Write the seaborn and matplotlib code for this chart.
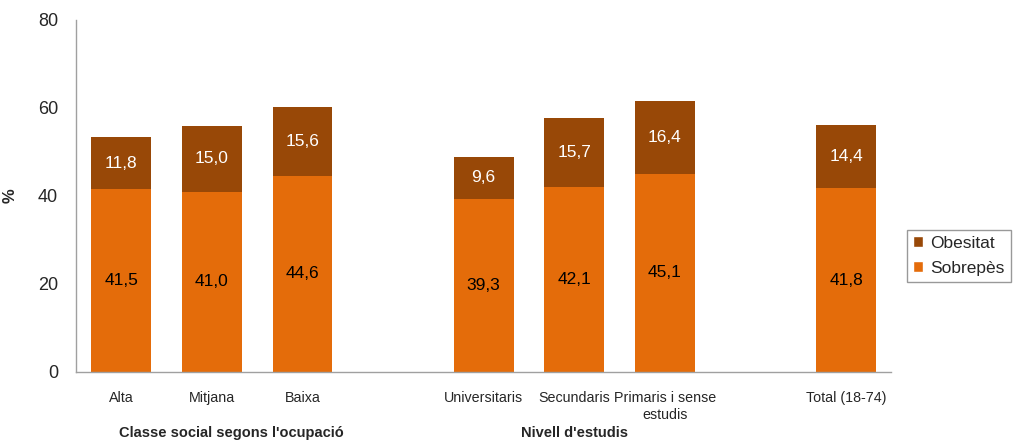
import numpy as np
import pandas as pd
import matplotlib
matplotlib.use("Agg")
import matplotlib.pyplot as plt
import seaborn as sns
from matplotlib.patches import Patch

categories = ["Alta", "Mitjana", "Baixa", " ", "Universitaris", "Secundaris",
              "Primaris i sense\nestudis", "  ", "Total (18-74)"]
sobrepes = [41.5, 41.0, 44.6, np.nan, 39.3, 42.1, 45.1, np.nan, 41.8]
obesitat = [11.8, 15.0, 15.6, np.nan, 9.6, 15.7, 16.4, np.nan, 14.4]
group_labels = ["Classe social segons l'ocupació", "Nivell d'estudis"]
y_ticks = [0, 20, 40, 60, 80]

c_sob = "#E46C0A"
c_obe = "#984807"

sns.set_style("white")
plt.rcParams['font.family'] = ['Liberation Sans', 'DejaVu Sans']

df = pd.DataFrame({"cat": categories, "sob": sobrepes, "obe": obesitat})
df["tot"] = df["sob"] + df["obe"]

fig = plt.figure(figsize=(10.14, 4.43), dpi=100)
ax = fig.add_axes([0.075, 0.1603, 0.804, 0.7946])

sns.barplot(data=df, x="cat", y="tot", order=categories, color=c_obe,
            saturation=1, width=0.66, ax=ax, edgecolor="none", errorbar=None)
sns.barplot(data=df, x="cat", y="sob", order=categories, color=c_sob,
            saturation=1, width=0.66, ax=ax, edgecolor="none", errorbar=None)

def fmt(v):
    return f"{v:.1f}".replace(".", ",")

for i, (s, o) in enumerate(zip(sobrepes, obesitat)):
    if np.isnan(s):
        continue
    ax.text(i, s / 2, fmt(s), ha="center", va="center", fontsize=12.5, color="black")
    ax.text(i, s + o / 2, fmt(o), ha="center", va="center", fontsize=12.5, color="white")

ax.set_xlim(-0.5, len(categories) - 0.5)
ax.set_ylim(0, 80)
ax.set_yticks(y_ticks)
ax.set_yticklabels([str(t) for t in y_ticks], fontsize=13)
ax.set_xticks(range(len(categories)))
ax.set_xticklabels([c.strip() for c in categories], fontsize=10.3)
ax.set_xticks(np.arange(-0.5, len(categories), 1), minor=True)
ax.tick_params(axis="x", which="major", length=0, pad=14)
ax.tick_params(axis="x", which="minor", length=5, color="#A0A0A0", width=1, direction="out")
ax.tick_params(axis="y", length=5, color="#A0A0A0", width=1, direction="out", pad=8)
ax.set_xlabel("")
ax.set_ylabel("%", fontsize=12, fontweight="bold")
ax.yaxis.set_label_coords(-0.072, 0.5)

for sp in ["top", "right"]:
    ax.spines[sp].set_visible(False)
for sp in ["left", "bottom"]:
    ax.spines[sp].set_color("#A0A0A0")
    ax.spines[sp].set_linewidth(1)

trans = ax.get_xaxis_transform()
ax.text(1.22, -0.194, group_labels[0], transform=trans, ha="center", va="bottom",
        fontsize=10.5, fontweight="bold")
ax.text(5.0, -0.194, group_labels[1], transform=trans, ha="center", va="bottom",
        fontsize=10.5, fontweight="bold")

handles = [Patch(facecolor=c_obe, label="Obesitat"), Patch(facecolor=c_sob, label="Sobrepès")]
leg = fig.legend(handles=handles, loc="upper left", bbox_to_anchor=(907/1014, 1 - 230/443),
                 frameon=True, fancybox=False, fontsize=12.5, handlelength=0.6, handleheight=0.6,
                 handletextpad=0.4, borderpad=0.35, labelspacing=0.55, borderaxespad=0)
leg.get_frame().set_edgecolor("#808080")
leg.get_frame().set_linewidth(1)

fig.savefig("out.png", dpi=100)
